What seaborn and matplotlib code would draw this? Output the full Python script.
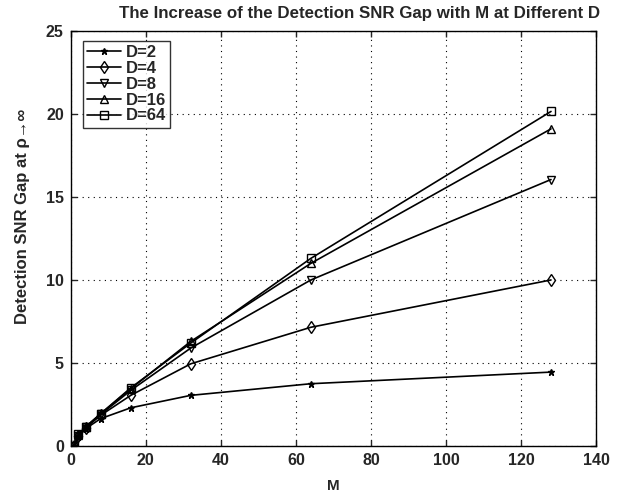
import matplotlib
matplotlib.use("Agg")
import matplotlib.pyplot as plt
import seaborn as sns
import pandas as pd

M = [1, 2, 4, 8, 16, 32, 64, 128]
gap_d2 = [0, 0.55, 1.05, 1.65, 2.3, 3.05, 3.75, 4.45]
gap_d4 = [0, 0.6, 1.1, 1.85, 3.05, 4.95, 7.15, 10.0]
gap_d8 = [0, 0.62, 1.15, 1.9, 3.35, 5.9, 10.0, 16.05]
gap_d16 = [0, 0.65, 1.15, 1.95, 3.45, 6.3, 11.0, 19.1]
gap_d64 = [0, 0.72, 1.15, 1.95, 3.5, 6.2, 11.3, 20.15]
labels = ["D=2", "D=4", "D=8", "D=16", "D=64"]
series = [gap_d2, gap_d4, gap_d8, gap_d16, gap_d64]
markers = ["*", "d", "v", "^", "s"]

sns.set_theme(style="ticks")
plt.rcParams["font.family"] = ["Liberation Sans", "DejaVu Sans"]
plt.rcParams["font.weight"] = "bold"

fig = plt.figure(figsize=(6.27, 4.94), dpi=100)
ax = fig.add_axes([0.1128, 0.0972, 0.8378, 0.8402])

for lab, vals, mk in zip(labels, series, markers):
    df = pd.DataFrame({"M": M, "gap": vals})
    filled = mk == "*"
    sns.lineplot(data=df, x="M", y="gap", ax=ax, color="black", lw=1.2,
                 marker=mk, markersize=6 if not filled else 5,
                 markerfacecolor="black" if filled else "none",
                 markeredgecolor="black", markeredgewidth=1.0, label=lab)

ax.set_xlim(0, 140)
ax.set_ylim(0, 25)
ax.set_xticks(range(0, 141, 20))
ax.set_yticks(range(0, 26, 5))
ax.grid(True, linestyle=(0, (1, 4)), color="black", lw=0.8)
ax.tick_params(direction="in", top=True, right=True, labelsize=11.5, length=4, width=1, pad=5)
for lbl in ax.get_xticklabels() + ax.get_yticklabels():
    lbl.set_fontweight("bold")
for sp in ax.spines.values():
    sp.set_linewidth(1.0)
    sp.set_color("black")

ax.set_xlabel("M", fontsize=11, fontweight="bold", labelpad=8)
ax.set_ylabel("Detection SNR Gap at \u03c1\u2192\u221e", fontsize=12, fontweight="bold")
ax.yaxis.set_label_coords(-0.078, 0.554)
ax.set_title("The Increase of the Detection SNR Gap with M at Different D",
             fontsize=12.2, fontweight="bold", pad=9, x=0.549)

leg = ax.legend(loc="upper left", bbox_to_anchor=(0.0234, 0.976), borderaxespad=0,
                frameon=True, fancybox=False,
                edgecolor="black", fontsize=12, handlelength=2.0, borderpad=0.25,
                labelspacing=0.05, handletextpad=0.3)
leg.get_frame().set_linewidth(1.0)
for t in leg.get_texts():
    t.set_fontweight("bold")

fig.savefig("out.png", dpi=100)
